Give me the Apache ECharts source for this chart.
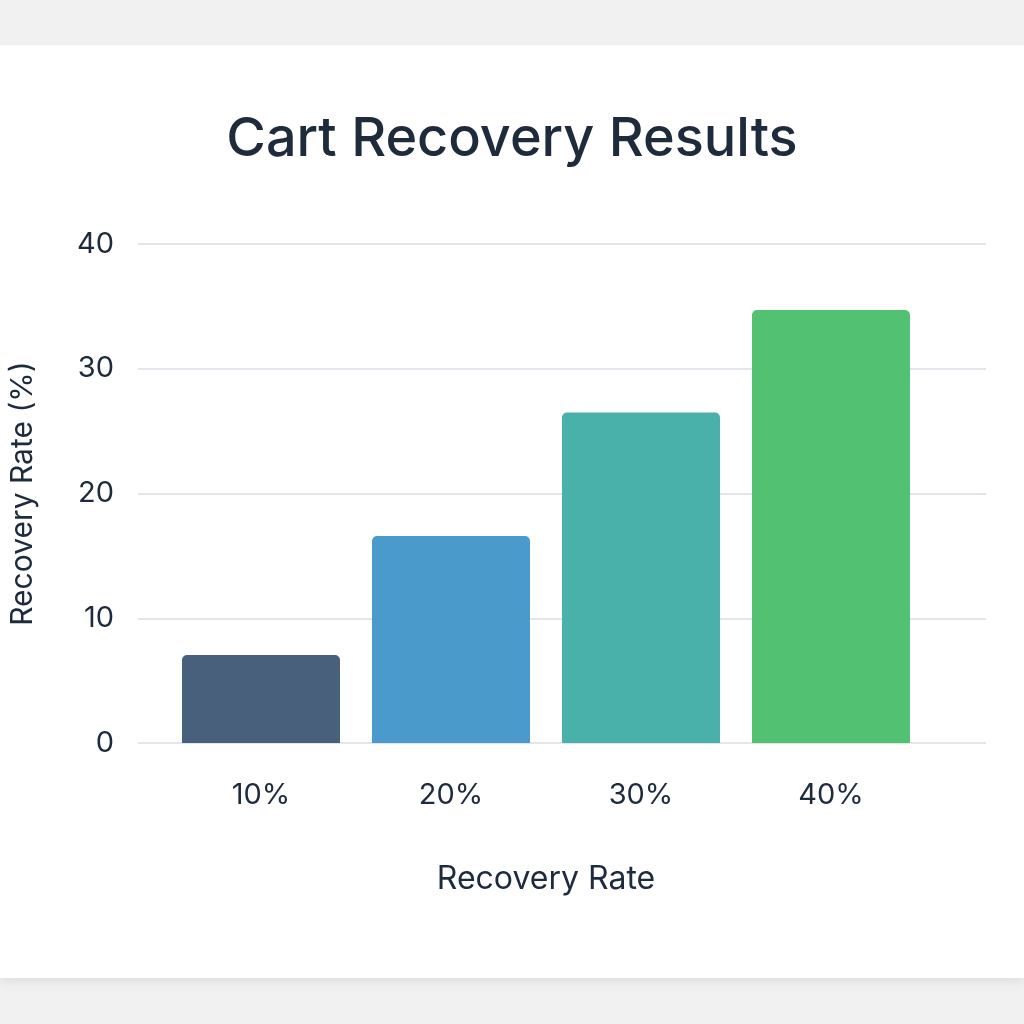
<!DOCTYPE html>
<html>
<head>
<meta charset="utf-8">
<script src="https://cdn.jsdelivr.net/npm/echarts@6/dist/echarts.min.js"></script>
<style>
  html, body { margin:0; padding:0; background:#f1f1f1; width:1024px; height:1024px; overflow:hidden; }
  .card { position:absolute; left:0; top:45px; width:1024px; height:933px; background:#fff; box-shadow:0 4px 10px rgba(0,0,0,0.08); }
  .chart { position:absolute; left:0; top:0; width:1024px; height:1024px; }
</style>
</head>
<body>
<div class="card"></div>
<div class="chart"></div>
<script>
var categories = ['10%', '20%', '30%', '40%'];
var values = [7.05, 16.6, 26.5, 34.7];
var barColors = ['#48607c', '#4a9bcb', '#4ab0aa', '#52c272'];

(function(){
    var mychart = echarts.init(document.querySelector('.chart'));
    var textColor = '#1e2b3c';
    var option = {
        title: {
            text: 'Cart Recovery Results',
            left: 'center',
            top: 108,
            textStyle: { fontSize: 54, fontWeight: 500, color: textColor, fontFamily: 'Inter' }
        },
        // grid 0 carries the full-width gridlines, grid 1 the bars
        grid: [
            { left: 130, right: 38, top: 244, bottom: 281 },
            { left: 166, right: 98, top: 244, bottom: 281 }
        ],
        xAxis: [
            { gridIndex: 0, type: 'value', show: false, min: 0, max: 1 },
            {
                gridIndex: 1, type: 'category', data: categories,
                axisLine: { show: false }, axisTick: { show: false },
                axisLabel: { fontSize: 29, color: textColor, margin: 38, fontFamily: 'Inter' },
                name: 'Recovery Rate', nameLocation: 'middle', nameGap: 120,
                nameTextStyle: { fontSize: 32, color: textColor, fontFamily: 'Inter' }
            }
        ],
        yAxis: [
            {
                gridIndex: 0, type: 'value', min: 0, max: 40, interval: 10,
                axisLine: { show: false }, axisTick: { show: false },
                axisLabel: { fontSize: 29, color: textColor, margin: 24, fontFamily: 'Inter' },
                splitLine: { lineStyle: { color: '#e3e5ec', width: 2 } },
                name: 'Recovery Rate (%)', nameLocation: 'middle', nameGap: 100, nameRotate: 90,
                nameTextStyle: { fontSize: 30, color: textColor, fontFamily: 'Inter' }
            },
            { gridIndex: 1, type: 'value', min: 0, max: 40, show: false }
        ],
        series: [{
            type: 'bar',
            xAxisIndex: 1, yAxisIndex: 1,
            barWidth: 158,
            data: values.map(function(v, i){
                return { value: v, itemStyle: { color: barColors[i], borderRadius: [5, 5, 0, 0] } };
            })
        }]
    };
    mychart.setOption(option);
})();
</script>
</body>
</html>
